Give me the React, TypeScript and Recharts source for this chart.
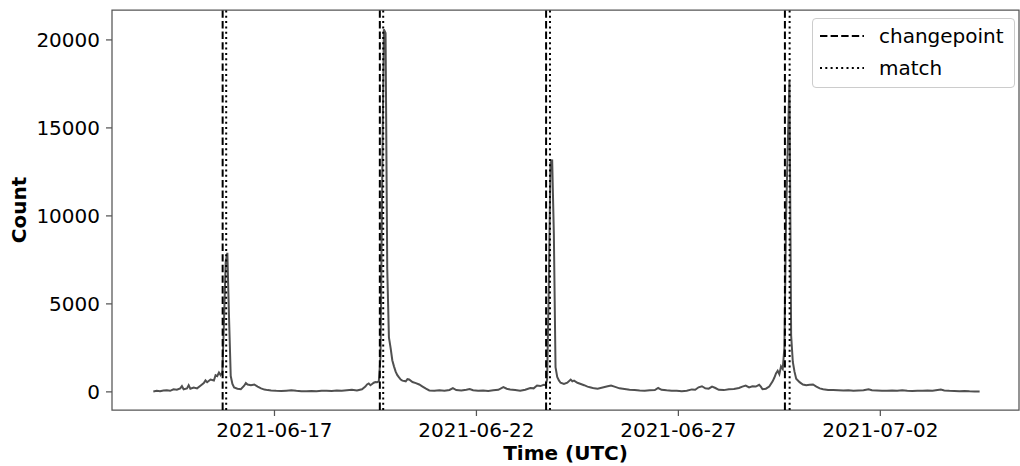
import { LineChart, Line, XAxis, YAxis, ReferenceLine, ReferenceArea, Legend, Label } from 'recharts'

// hours since 2021-06-14 00:00 UTC
const START = Date.UTC(2021, 5, 14)

const hours = [
    0, 2, 4, 6, 8, 10, 12, 14, 16, 17, 18, 20, 21, 22, 24, 26, 28, 30, 31, 32, 34, 36, 37, 38, 39,
    40, 41, 42, 43, 44, 45, 46, 47, 48, 50, 52, 54, 55, 56, 58, 60, 62, 64, 66, 68,
    70, 73, 76, 79, 82, 85, 88, 91, 94, 97, 100, 103, 106, 109, 112, 115, 118, 121, 124, 126, 127, 128,
    129, 130, 131, 132, 133, 134, 135, 136, 137, 138, 139, 140, 141, 142, 143, 144, 145, 146, 147, 148,
    150, 151, 152, 154, 156, 158, 160, 162, 164, 167, 170, 173, 176, 178, 180, 183, 186, 188, 190, 193,
    196, 199, 202, 205, 208, 210, 212, 215, 218, 221, 224, 226, 228, 230, 232, 233,
    234, 235, 236, 237, 238, 239, 240, 241, 242, 244, 246, 248, 249, 250, 252, 254, 256, 258, 260, 262,
    264, 267, 270, 272, 274, 277, 280, 283, 286, 289, 292, 295, 298, 300, 302, 305, 308, 311, 314, 317,
    320, 322, 324, 326, 328, 330, 332, 334, 336, 339, 342, 345, 348, 350, 352, 354, 356, 358, 360, 361,
    362, 364, 366, 368, 369, 370, 371, 372, 373, 374, 375, 376, 377, 378, 379, 380, 381, 382, 384, 386,
    388, 390, 392, 394, 396, 398, 401, 404, 407, 410, 413, 416, 419, 422, 425, 427, 430, 433, 436, 439,
    442, 445, 448, 451, 454, 457, 460, 463, 466, 468, 470, 473, 476, 479, 482, 485, 488, 491,
]

const counts = [
    20, 60, 40, 80, 90, 60, 150, 120, 200, 330, 150, 200, 380, 180, 250, 200, 350, 500, 650, 550, 700, 650, 950, 900, 1100,
    950, 1100, 4000, 7400, 7900, 4200, 900, 450, 250, 180, 150, 350, 500, 420, 380, 420, 300, 200, 130, 100,
    80, 60, 50, 70, 90, 60, 40, 30, 50, 40, 60, 70, 50, 80, 60, 90, 120, 80, 150, 300, 420, 480,
    380, 450, 520, 560, 550, 600, 2000, 12000, 20600, 20400, 7000, 3100, 2500, 1800, 1450, 1150, 950, 820, 700, 640,
    600, 720, 700, 560, 500, 420, 300, 180, 80, 60, 90, 70, 110, 210, 100, 80, 120, 160, 90, 60,
    80, 50, 90, 120, 270, 180, 130, 100, 60, 120, 220, 200, 360, 330, 400, 380,
    700, 6000, 13000, 13200, 9000, 1400, 850, 650, 520, 450, 520, 700, 600, 640, 520, 450, 380, 300, 250, 200,
    180, 250, 320, 360, 300, 200, 160, 120, 100, 80, 70, 90, 100, 220, 120, 90, 70, 60, 40, 60,
    140, 120, 260, 320, 200, 180, 300, 220, 120, 100, 150, 160, 220, 300, 360, 250, 320, 300, 400, 300,
    150, 180, 300, 600, 800, 1050, 1200, 1000, 1450, 1300, 2500, 10000, 14000, 17700, 3200, 1700, 1150, 750, 550, 420,
    380, 400, 420, 300, 200, 150, 110, 100, 90, 80, 90, 70, 80, 90, 150, 90, 80, 70, 60, 80,
    70, 90, 60, 50, 60, 70, 80, 60, 100, 130, 80, 60, 50, 40, 50, 30, 20, 20,
]

const changepoints = [41.2, 134.6, 233.4, 375.3]
const matches = [43.3, 136.6, 235.7, 378.1]

const xTicks = [72, 192, 312, 432]
const yTicks = [0, 5000, 10000, 15000, 20000]
const legendLabels = ['changepoint', 'match']

const X_DOMAIN: [number, number] = [-24.55, 514.4]
const Y_DOMAIN: [number, number] = [-1030, 21700]

const FONT = '"DejaVu Sans", sans-serif'
const DASH = '7.4 3.2'
const DOT = '2 3.3'

const data = hours.map((h, i) => ({ t: h, count: counts[i] }))

const fmtDate = (h: number) => new Date(START + h * 3600000).toISOString().slice(0, 10)

function LegendBox() {
    const styles = [DASH, DOT]
    return (
        <div style={{
            border: '1px solid #cccccc', borderRadius: 4, background: 'rgba(255,255,255,0.8)',
            padding: '1px 8px 3px 7px', fontFamily: FONT, fontSize: 20, color: '#000', width: 186,
        }}>
            {legendLabels.map((name, i) => (
                <div key={name} style={{ display: 'flex', alignItems: 'center', height: 32 }}>
                    <svg width={44} height={10} style={{ marginRight: 15 }}>
                        <line x1={0} y1={5} x2={44} y2={5} stroke="#000" strokeWidth={2} strokeDasharray={styles[i]} />
                    </svg>
                    <span>{name}</span>
                </div>
            ))}
        </div>
    )
}

export default function App() {
    return (
        <div style={{ position: 'absolute', left: 0, top: 0, background: '#fff' }}>
            <LineChart width={1020} height={466} data={data} margin={{ top: 10, right: 1, bottom: 0, left: 0 }}>
                <XAxis
                    dataKey="t"
                    type="number"
                    domain={X_DOMAIN}
                    allowDataOverflow
                    ticks={xTicks}
                    tickFormatter={fmtDate}
                    height={56}
                    axisLine={false}
                    tickSize={6}
                    tickMargin={7}
                    tickLine={{ stroke: '#555', strokeWidth: 1.25 }}
                    tick={{ fill: '#000', fontSize: 20, fontFamily: FONT }}
                >
                    <Label
                        content={({ viewBox }: any) => (
                            <text x={viewBox.x + viewBox.width / 2} y={viewBox.y + 50} textAnchor="middle"
                                fontFamily={FONT} fontSize={20} fontWeight="bold" fill="#000">Time (UTC)</text>
                        )}
                    />
                </XAxis>
                <YAxis
                    type="number"
                    domain={Y_DOMAIN}
                    allowDataOverflow
                    ticks={yTicks}
                    width={112}
                    axisLine={false}
                    tickSize={6}
                    tickMargin={6}
                    tickLine={{ stroke: '#555', strokeWidth: 1.25 }}
                    tick={{ fill: '#000', fontSize: 20, fontFamily: FONT }}
                >
                    <Label
                        content={({ viewBox }: any) => {
                            const cx = 26
                            const cy = viewBox.y + viewBox.height / 2
                            return (
                                <text x={cx} y={cy} transform={`rotate(-90 ${cx} ${cy})`} textAnchor="middle"
                                    fontFamily={FONT} fontSize={20} fontWeight="bold" fill="#000">Count</text>
                            )
                        }}
                    />
                </YAxis>
                <Line
                    type="linear"
                    dataKey="count"
                    stroke="#505050"
                    strokeWidth={2}
                    dot={false}
                    activeDot={false}
                    isAnimationActive={false}
                />
                {changepoints.map((c) => (
                    <ReferenceLine key={`cp-${c}`} x={c} stroke="#000" strokeWidth={2} strokeDasharray={DASH} />
                ))}
                {matches.map((m) => (
                    <ReferenceLine key={`m-${m}`} x={m} stroke="#000" strokeWidth={2} strokeDasharray={DOT} />
                ))}
                <ReferenceArea
                    x1={X_DOMAIN[0]} x2={X_DOMAIN[1]} y1={Y_DOMAIN[0]} y2={Y_DOMAIN[1]}
                    fill="none" fillOpacity={0} stroke="#555" strokeWidth={1.25} ifOverflow="visible"
                />
                <Legend
                    layout="vertical"
                    align="center"
                    verticalAlign="middle"
                    content={() => <LegendBox />}
                    wrapperStyle={{ position: 'absolute', top: 18, left: 812, width: 'auto', bottom: 'auto' }}
                />
            </LineChart>
        </div>
    )
}
